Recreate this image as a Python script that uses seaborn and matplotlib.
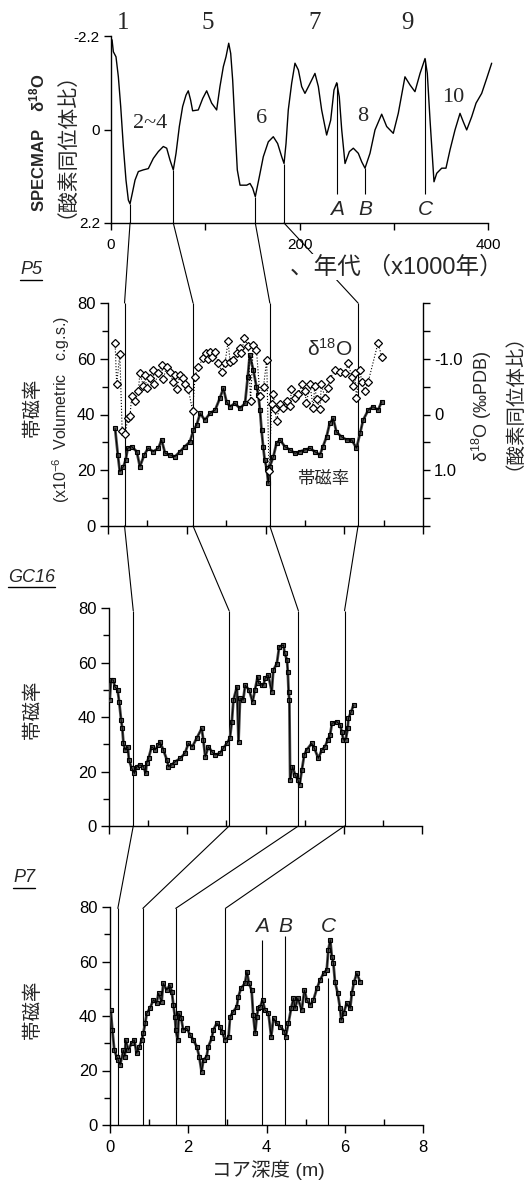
import numpy as np
import matplotlib
matplotlib.use("Agg")
import matplotlib.pyplot as plt
import seaborn as sns
from matplotlib.patches import ConnectionPatch
from matplotlib.lines import Line2D

# ---------------- data ----------------
# SPECMAP stacked d18O curve (age in ka, value in standard units)
spec_age = [1.1, 2.5, 5.3, 7.8, 10.3, 13.1, 15.9, 18.4, 20.2, 22.6, 25.5, 29, 34.3, 39.6, 44.9, 50.2,
            55.5, 59.1, 62.6, 66.1, 69, 72.5, 76, 79.6, 82, 84.5, 86.6, 92.6, 97.3, 101.5, 106.8, 112.1,
            115.6, 119.2, 122, 124.9, 127, 129.1, 131.6, 134, 136.9, 144, 147.5, 150.3, 153.1, 157.4,
            161.6, 166.9, 172.2, 176.8, 181.1, 183.6, 185.7, 188.1, 191.7, 195.2, 198.8, 202.3, 205.8,
            210.4, 216.4, 220, 223.5, 228.8, 233.1, 236.6, 239.5, 242.2, 244.8, 248.3, 252.9, 257.1,
            262.4, 266, 269.5, 274.8, 280.1, 287.2, 292.5, 299.5, 304.8, 311.9, 317.2, 322.5, 327.9,
            333.2, 335.6, 338.5, 342.7, 345.6, 350.9, 355.4, 359.7, 365, 370.3, 373.8, 377.4, 382.7,
            387.3, 393.3, 398.6, 403.9]
spec_val = [-2.11, -1.83, -1.71, -1.24, -0.54, 0.40, 1.19, 1.66, 1.75, 1.50, 1.19, 0.99, 0.95, 0.92,
            0.68, 0.52, 0.40, 0.44, 0.72, 0.95, 0.56, -0.07, -0.54, -0.81, -0.91, -0.69, -0.44, -0.46,
            -0.73, -0.91, -0.62, -0.46, -1.01, -1.48, -1.71, -2.03, -1.79, -1.16, -0.07, 0.95, 1.31,
            1.31, 1.27, 1.38, 1.58, 1.11, 0.64, 0.29, 0.17, 0.33, 0.64, 0.80, 0.33, -0.46, -1.09, -1.56,
            -1.40, -1.01, -0.85, -1.05, -1.32, -1.01, -0.46, 0.13, -0.22, -0.93, -1.10, -0.77, 0.01,
            0.80, 0.52, 0.44, 0.56, 0.76, 0.91, 0.56, 0.01, -0.36, -0.07, 0.09, -0.38, -1.24, -1.05,
            -0.89, -1.32, -1.67, -1.32, -0.22, 1.23, 1.03, 0.91, 0.91, 0.48, 0.01, -0.38, -0.18, 0.01,
            -0.30, -0.62, -0.85, -1.20, -1.56]
stage_labels = ["1", "5", "7", "9", "2~4", "6", "8", "10"]
stage_age = [13, 103, 216, 314, 41, 160, 267, 363]
stage_val = [-2.5, -2.5, -2.5, -2.5, -0.15, -0.26, -0.30, -0.76]

# P5 core: volume magnetic susceptibility (x1e-6 cgs) and d18O (permil PDB)
p5_sus = [(0.18, 35.0), (0.25, 25.5), (0.30, 19.5), (0.39, 21.3), (0.45, 23.7), (0.50, 27.9),
          (0.60, 28.5), (0.73, 26.7), (0.81, 21.3), (0.92, 25.5), (1.02, 27.9), (1.15, 26.7),
          (1.28, 27.9), (1.36, 30.9), (1.45, 26.1), (1.57, 25.5), (1.70, 24.9), (1.83, 26.7),
          (1.95, 28.5), (2.08, 30.2), (2.17, 34.4), (2.25, 36.2), (2.34, 40.4), (2.46, 38.0),
          (2.59, 40.4), (2.72, 41.6), (2.84, 45.8), (2.93, 49.4), (3.01, 44.6), (3.10, 42.8),
          (3.22, 44.0), (3.35, 42.2), (3.48, 44.0), (3.55, 53.6), (3.60, 61.3), (3.69, 56.0),
          (3.77, 50.0), (3.82, 47.0), (3.86, 41.6), (3.90, 34.4), (3.94, 28.5), (3.98, 23.7),
          (4.03, 20.7), (4.07, 15.3), (4.11, 21.3), (4.20, 24.9), (4.28, 29.7), (4.37, 30.9),
          (4.49, 28.5), (4.62, 27.3), (4.75, 26.1), (4.87, 26.7), (5.00, 27.3), (5.13, 27.9),
          (5.25, 26.7), (5.38, 25.5), (5.46, 28.5), (5.55, 32.0), (5.63, 36.8), (5.72, 38.6),
          (5.80, 33.8), (5.93, 32.0), (6.06, 30.9), (6.19, 30.9), (6.31, 27.9), (6.40, 33.2),
          (6.48, 38.0), (6.61, 41.6), (6.73, 42.8), (6.86, 41.6), (6.95, 44.6)]
p5_o18 = [(0.18, -1.29), (0.22, -0.54), (0.30, -1.08), (0.36, 0.30), (0.44, 0.35), (0.50, 0.06),
          (0.56, 0.03), (0.60, -0.33), (0.69, -0.24), (0.77, -0.42), (0.81, -0.74), (0.90, -0.51),
          (0.94, -0.71), (0.98, -0.48), (1.07, -0.66), (1.15, -0.80), (1.18, -0.54), (1.28, -0.74),
          (1.36, -0.89), (1.40, -0.63), (1.49, -0.86), (1.57, -0.77), (1.65, -0.59), (1.70, -0.71),
          (1.74, -0.45), (1.83, -0.71), (1.90, -0.66), (1.95, -0.54), (2.04, -0.45), (2.15, -0.06),
          (2.21, -0.68), (2.29, -0.86), (2.42, -1.01), (2.50, -1.10), (2.55, -1.00), (2.59, -1.13),
          (2.63, -1.04), (2.72, -1.13), (2.80, -0.92), (2.89, -0.77), (2.97, -0.92), (3.05, -1.31),
          (3.10, -0.95), (3.18, -0.98), (3.27, -1.10), (3.35, -1.19), (3.39, -1.10), (3.46, -1.37),
          (3.56, -1.22), (3.62, -0.24), (3.69, -1.25), (3.77, -1.16), (3.86, -0.33), (3.95, -0.50),
          (4.03, -0.98), (4.09, 1.01), (4.16, -0.18), (4.20, -0.36), (4.24, -0.09), (4.28, 0.12),
          (4.37, -0.18), (4.45, -0.12), (4.54, -0.24), (4.62, -0.15), (4.66, -0.45), (4.75, -0.30),
          (4.83, -0.36), (4.92, -0.54), (5.00, -0.42), (5.04, -0.21), (5.13, -0.54), (5.21, -0.12),
          (5.25, -0.51), (5.30, -0.27), (5.38, -0.09), (5.42, -0.54), (5.51, -0.30), (5.59, -0.48),
          (5.63, -0.63), (5.76, -0.80), (5.89, -0.77), (6.02, -0.74), (6.10, -0.92), (6.19, -0.68),
          (6.23, -0.51), (6.27, -0.74), (6.31, -0.30), (6.40, -0.80), (6.44, -0.59), (6.52, -0.42),
          (6.61, -0.59), (6.86, -1.29), (6.95, -1.03)]
gc16_sus = [(0.02, 46.2), (0.05, 53.6), (0.11, 53.6), (0.15, 51.1), (0.22, 49.9), (0.26, 45.6),
            (0.31, 38.9), (0.34, 35.8), (0.37, 30.3), (0.41, 27.9), (0.48, 29.1), (0.51, 24.2),
            (0.58, 21.2), (0.65, 19.3), (0.71, 21.8), (0.79, 22.4), (0.88, 21.8), (0.94, 19.3),
            (0.96, 23.0), (1.01, 24.8), (1.09, 29.1), (1.18, 27.9), (1.26, 29.7), (1.30, 30.9),
            (1.39, 27.9), (1.48, 24.2), (1.52, 21.8), (1.60, 22.4), (1.69, 23.6), (1.82, 24.8),
            (1.94, 26.7), (2.03, 30.3), (2.13, 29.1), (2.24, 32.2), (2.37, 35.8), (2.41, 31.6),
            (2.46, 25.4), (2.54, 29.1), (2.63, 27.3), (2.71, 26.1), (2.84, 26.7), (2.92, 28.5),
            (3.01, 30.3), (3.09, 32.2), (3.14, 38.3), (3.18, 46.2), (3.27, 51.1), (3.31, 30.9),
            (3.35, 46.8), (3.43, 46.2), (3.48, 51.7), (3.58, 49.9), (3.67, 45.6), (3.73, 49.9),
            (3.80, 54.8), (3.82, 52.4), (3.91, 51.7), (3.95, 51.7), (3.99, 54.2), (4.07, 55.4),
            (4.16, 49.3), (4.20, 57.2), (4.29, 59.6), (4.35, 65.8), (4.46, 66.4), (4.49, 63.4),
            (4.55, 60.9), (4.57, 56.6), (4.59, 49.3), (4.61, 46.2), (4.63, 16.9), (4.69, 21.8),
            (4.76, 18.7), (4.83, 16.9), (4.87, 15.0), (4.93, 20.6), (4.99, 26.1), (5.05, 27.9),
            (5.18, 30.3), (5.25, 28.5), (5.35, 24.8), (5.44, 27.9), (5.52, 29.1), (5.59, 31.6),
            (5.65, 33.4), (5.70, 37.7), (5.82, 38.3), (5.91, 37.1), (5.95, 34.6), (5.99, 31.6),
            (6.05, 31.6), (6.10, 35.8), (6.12, 39.5), (6.19, 41.9), (6.25, 44.4)]
p7_sus = [(0.02, 42.2), (0.06, 34.9), (0.11, 27.5), (0.17, 25.1), (0.21, 23.9), (0.26, 22.0),
          (0.34, 27.5), (0.38, 25.1), (0.40, 31.2), (0.47, 27.5), (0.55, 30.0), (0.62, 31.2),
          (0.68, 26.3), (0.75, 28.7), (0.81, 31.2), (0.85, 33.6), (0.90, 37.3), (0.94, 41.0),
          (1.02, 42.8), (1.11, 45.9), (1.19, 44.7), (1.24, 48.3), (1.32, 45.3), (1.36, 52.0),
          (1.45, 49.5), (1.53, 51.4), (1.58, 48.9), (1.62, 44.0), (1.66, 39.7), (1.68, 34.9),
          (1.73, 31.2), (1.76, 41.0), (1.82, 39.2), (1.87, 34.9), (1.96, 35.5), (2.05, 33.0),
          (2.13, 31.2), (2.22, 28.7), (2.28, 25.1), (2.34, 19.6), (2.39, 23.9), (2.47, 25.1),
          (2.51, 28.7), (2.60, 31.8), (2.64, 34.9), (2.73, 37.3), (2.81, 36.1), (2.86, 34.3),
          (2.94, 31.2), (3.03, 32.4), (3.07, 39.7), (3.15, 41.6), (3.24, 43.4), (3.28, 47.1),
          (3.35, 50.2), (3.45, 52.0), (3.50, 56.3), (3.55, 52.0), (3.62, 49.5), (3.66, 40.4),
          (3.71, 33.6), (3.75, 39.7), (3.79, 42.8), (3.84, 43.4), (3.90, 45.9), (3.96, 42.2),
          (4.05, 41.0), (4.12, 32.4), (4.18, 39.2), (4.26, 37.3), (4.35, 36.1), (4.46, 34.3),
          (4.49, 32.4), (4.56, 37.3), (4.63, 42.8), (4.69, 46.5), (4.73, 42.8), (4.80, 46.5),
          (4.90, 42.2), (4.97, 49.5), (5.03, 45.9), (5.12, 44.0), (5.20, 45.9), (5.29, 50.2),
          (5.37, 53.2), (5.46, 55.7), (5.54, 56.9), (5.58, 64.2), (5.63, 67.9), (5.67, 61.8),
          (5.71, 59.3), (5.75, 52.6), (5.82, 48.3), (5.88, 42.8), (5.91, 38.5), (5.97, 41.0),
          (6.05, 44.7), (6.14, 42.8), (6.18, 48.3), (6.24, 52.6), (6.31, 55.7), (6.39, 52.6)]

# correlation tie points
tie_age = [20.2, 66.1, 153.1, 183.6]       # ka on SPECMAP
tie_p5 = [0.42, 2.16, 4.11, 6.35]          # m
tie_gc16 = [0.62, 3.07, 4.84, 6.02]        # m
tie_p7 = [0.20, 0.84, 1.68, 2.95]          # m
abc_labels = ["A", "B", "C"]
abc_age = [239.5, 269.5, 333.2]
abc_p7 = [3.88, 4.48, 5.57]
abc_p7_top = [68, 69.5, 54]

# ---------------- style ----------------
sns.set_style("ticks")
plt.rcParams['font.family'] = ['Liberation Sans', 'Noto Sans CJK JP', 'DejaVu Sans']
plt.rcParams['mathtext.fontset'] = 'custom'
plt.rcParams['mathtext.rm'] = 'Liberation Sans'
plt.rcParams['mathtext.it'] = 'Liberation Sans:italic'
plt.rcParams['mathtext.bf'] = 'Liberation Sans:bold'
plt.rcParams['axes.linewidth'] = 1.0
plt.rcParams['xtick.color'] = 'k'
plt.rcParams['ytick.color'] = 'k'
plt.rcParams['axes.edgecolor'] = 'k'

W, H = 524, 1182
fig = plt.figure(figsize=(W / 100, H / 100), dpi=100)
fig.patch.set_facecolor('white')


def box(l, r, t, b):
    return [l / W, 1 - b / H, (r - l) / W, (b - t) / H]


def ftext(x, y, s, **kw):
    kw.setdefault('ha', 'center')
    kw.setdefault('va', 'center')
    return fig.text(x / W, 1 - y / H, s, **kw)


ax0 = fig.add_axes(box(111, 488, 36, 223))
ax5 = fig.add_axes(box(108, 423, 303, 526))
ax16 = fig.add_axes(box(109, 422, 608, 826))
ax7 = fig.add_axes(box(110, 423, 907, 1125))
for a in (ax0, ax5, ax16, ax7):
    a.set_facecolor('none')

LW = 0.8
# ---------------- SPECMAP ----------------
sns.lineplot(x=spec_age, y=spec_val, ax=ax0, color='k', linewidth=1.0, sort=False,
             estimator=None, clip_on=False)
ax0.set_xlim(0, 400)
ax0.set_ylim(2.2, -2.2)
sns.despine(ax=ax0)
ax0.set_yticks([-2.2, 0, 2.2])
ax0.set_yticklabels(['-2.2', '0', '2.2'])
ax0.set_xticks([0, 200, 400])
ax0.set_xticks([100, 300], minor=True)
ax0.tick_params(axis='both', which='both', length=5, width=1, labelsize=11, pad=3)
ax0.tick_params(axis='x', which='major', pad=6)
ax0.set_xlabel('')
ax0.set_ylabel('')
for s, a_, v_ in zip(stage_labels, stage_age, stage_val):
    ax0.text(a_, v_, s, family='Liberation Serif', fontsize=18 if v_ < -2 else 16,
             ha='center', va='center', clip_on=False)
ylo0 = ax0.get_ylim()[0]
for a_ in tie_age:
    ax0.vlines(a_, np.interp(a_, spec_age, spec_val), ylo0, color='k', lw=LW)
for lab, a_ in zip(abc_labels, abc_age):
    ax0.vlines(a_, np.interp(a_, spec_age, spec_val), 1.52, color='k', lw=LW)
    ax0.text(a_, 1.88, lab, fontsize=15, style='italic', ha='center', va='center')

ftext(37, 143, 'SPECMAP    δ$^{\\mathbf{18}}$O', rotation=90, fontsize=12, fontweight='bold')
ftext(55, 135, '（酸素同位体比）', rotation=90, fontsize=15)
ftext(290, 267, '、年代 （x1000年）', fontsize=17, ha='left', zorder=10,
      bbox=dict(facecolor='white', edgecolor='none', pad=1.0))


# ---------------- depth panels ----------------
def depth_axes(ax, labels=False):
    ax.set_xlim(0, 8)
    ax.set_ylim(0, 80)
    sns.despine(ax=ax)
    ax.set_xticks([0, 2, 4, 6, 8])
    ax.set_xticks([1, 3, 5, 7], minor=True)
    ax.set_yticks([0, 20, 40, 60, 80])
    ax.set_yticks([10, 30, 50, 70], minor=True)
    ax.tick_params(axis='both', which='major', length=6, width=1, labelsize=12, pad=3)
    ax.tick_params(axis='y', which='minor', length=4, width=1)
    ax.tick_params(axis='x', which='minor', length=4, width=1, direction='in')
    ax.tick_params(axis='x', labelbottom=labels, pad=5)
    ax.set_xlabel('')
    ax.set_ylabel('')


def sus_plot(ax, data):
    d = np.array(data)
    sns.lineplot(x=d[:, 0], y=d[:, 1], ax=ax, sort=False, estimator=None, color='#4a4a4a',
                 linewidth=2.0, marker='s', markersize=3.2, markerfacecolor='#555555',
                 markeredgecolor='k', markeredgewidth=0.8, zorder=4)
    sns.lineplot(x=d[:, 0], y=d[:, 1], ax=ax, sort=False, estimator=None, color='k',
                 linewidth=0.7, zorder=4)


sus_plot(ax5, p5_sus)
depth_axes(ax5)
ax5r = ax5.twinx()
o = np.array(p5_o18)
sns.lineplot(x=o[:, 0], y=o[:, 1], ax=ax5r, sort=False, estimator=None, color='k',
             linewidth=0.8, linestyle=':', marker='D', markersize=4.3, markerfacecolor='white',
             markeredgecolor='k', markeredgewidth=0.9, zorder=5)
ax5r.set_ylim(2, -2)
ax5r.set_xlim(0, 8)
ax5r.set_ylabel('')
for sp in ('top', 'left', 'bottom'):
    ax5r.spines[sp].set_visible(False)
ax5r.set_yticks([-1, 0, 1])
ax5r.set_yticklabels(['-1.0', '0', '1.0'])
ax5r.set_yticks([-2, -1.5, -0.5, 0.5, 1.5, 2], minor=True)
ax5r.tick_params(axis='y', which='both', length=5, width=1, labelsize=12, pad=3)
ax5.text(5.63, 63.5, 'δ$^{18}$O', fontsize=15, ha='center', va='center', zorder=6)
ax5.text(5.46, 17.0, '帯磁率', fontsize=12.5, ha='center', va='center', zorder=6)

sus_plot(ax16, gc16_sus)
depth_axes(ax16)
sus_plot(ax7, p7_sus)
depth_axes(ax7, labels=True)

# ---------------- correlation lines ----------------
top5 = ax5.get_ylim()[1]
for a_, d5 in zip(tie_age, tie_p5):
    fig.add_artist(ConnectionPatch(xyA=(a_, ylo0), coordsA=ax0.transData, xyB=(d5, top5),
                                   coordsB=ax5.transData, color='k', lw=LW, zorder=3))
    ax5.vlines(d5, 0, top5, color='k', lw=LW, zorder=2)
for d5, d16 in zip(tie_p5, tie_gc16):
    fig.add_artist(ConnectionPatch(xyA=(d5, 0), coordsA=ax5.transData, xyB=(d16, 79),
                                   coordsB=ax16.transData, color='k', lw=LW, zorder=3))
    ax16.vlines(d16, 0, 79, color='k', lw=LW, zorder=2)
for d16, d7 in zip(tie_gc16, tie_p7):
    fig.add_artist(ConnectionPatch(xyA=(d16, 0), coordsA=ax16.transData, xyB=(d7, 79.5),
                                   coordsB=ax7.transData, color='k', lw=LW, zorder=3))
    ax7.vlines(d7, 0, 79.5, color='k', lw=LW, zorder=2)
for lab, d7, t in zip(abc_labels, abc_p7, abc_p7_top):
    ax7.vlines(d7, 0, t, color='k', lw=LW, zorder=2)
    ax7.text(d7, 73, lab, fontsize=15, style='italic', ha='center', va='center')

# ---------------- axis titles ----------------
for y in (408, 710, 1010):
    ftext(33, y, '帯磁率', rotation=90, fontsize=14)
ftext(61, 410, '(x10$^{-6}$  Volumetric   c.g.s.)', rotation=90, fontsize=11.5)
ftext(482, 406, 'δ$^{18}$O (‰PDB)', rotation=90, fontsize=13)
ftext(504, 392, '（酸素同位体比）', rotation=90, fontsize=14)
ftext(268, 1170, 'コア深度 (m)', fontsize=14)

titles = []
for x, y, s in ((20, 270, 'P5'), (8, 577, 'GC16'), (13, 878, 'P7')):
    titles.append(ftext(x, y, s, ha='left', fontsize=13, style='italic'))

fig.canvas.draw()
r = fig.canvas.get_renderer()
inv = fig.transFigure.inverted()
for t in titles:
    bb = t.get_window_extent(r)
    (x0, y0), (x1, _) = inv.transform([(bb.x0, bb.y0 - 1), (bb.x1, bb.y0 - 1)])
    fig.add_artist(Line2D([x0, x1], [y0, y0], transform=fig.transFigure, color='k', lw=1))

fig.savefig('out.png', dpi=100, facecolor='white')
